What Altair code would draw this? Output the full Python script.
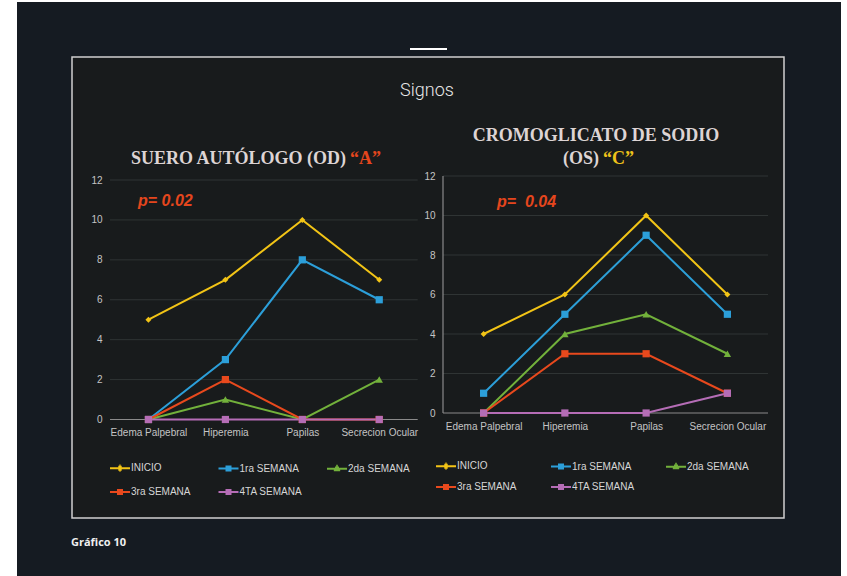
import altair as alt
import pandas as pd

# ---------------- data ----------------
categories = ["Edema Palpebral", "Hiperemia", "Papilas", "Secrecion Ocular"]
series = ["INICIO", "1ra SEMANA", "2da SEMANA", "3ra SEMANA", "4TA SEMANA"]
colors = ["#f2c416", "#2c9fd9", "#72b13b", "#e8491d", "#b56db6"]
y_ticks = [0, 2, 4, 6, 8, 10, 12]

# Suero autologo (OD) "A"
od_inicio = [5, 7, 10, 7]
od_sem1 = [0, 3, 8, 6]
od_sem2 = [0, 1, 0, 2]
od_sem3 = [0, 2, 0, 0]
od_sem4 = [0, 0, 0, 0]

# Cromoglicato de sodio (OS) "C"
os_inicio = [4, 6, 10, 6]
os_sem1 = [1, 5, 9, 5]
os_sem2 = [0, 4, 5, 3]
os_sem3 = [0, 3, 3, 1]
os_sem4 = [0, 0, 0, 1]

# ---------------- style ----------------
W, H = 847, 576
NAVY = "#151b22"
BOX = "#181b1c"
BOX_STROKE = "#d0d0d0"
GRID = "#2f3434"
AXIS_LINE = "#8a8a8a"
LABEL = "#c4c4c4"
LEG = "#d6d6d6"
RED = "#e5461d"
YEL = "#efc21a"
TITLE = "#ddd4d4"
SANS = "Liberation Sans"
SERIF = "Liberation Serif"

# legend symbols: a short line with a small marker drawn from thick strokes
SQ = "M-1,0H1M-0.3,-0.2H0.3M-0.3,0.2H0.3"
DI = "M-1,0H1M-0.17,-0.15H0.17M-0.17,0.15H0.17M-0.06,-0.27H0.06M-0.06,0.27H0.06"
TR = "M-1,0H1M-0.08,-0.3H0.08M-0.2,-0.13H0.2M-0.32,0.13H0.32"
legend_shapes = [DI, SQ, TR, SQ, SQ]

series_p = ["p_" + s for s in series]  # keys for the plotted marks' own colour scales


def tidy(values):
    rows = []
    for s, sp, vals in zip(series, series_p, values):
        for c, v in zip(categories, vals):
            rows.append({"serie": s, "serie_p": sp, "signo": c, "n": v})
    return pd.DataFrame(rows)


def text(txt, x, y, **kw):
    return alt.Chart(pd.DataFrame({"t": [txt]})).mark_text(**kw).encode(
        text="t:N", x=alt.value(x), y=alt.value(y))


def panel(values, x_range, y_range, legend_x, legend_y, row_pad, col_pad, y_line):
    df = tidy(values)
    xs = alt.Scale(type="point", domain=categories, range=x_range, padding=0.5)
    ys = alt.Scale(domain=[0, 12], range=y_range, nice=False, zero=False)
    ax_x = alt.Axis(orient="bottom", offset=y_range[0] - H, title=None, domain=False,
                    ticks=False, tickSize=0, grid=False, labelAngle=0, labelOverlap=False,
                    labelPadding=8, labelFont=SANS, labelFontSize=10, labelColor=LABEL,
                    zindex=1)
    ax_y = alt.Axis(orient="left", offset=-x_range[0], title=None, domain=False,
                    ticks=False, tickSize=0, grid=False, values=y_ticks, labelPadding=8,
                    labelFont=SANS, labelFontSize=10, labelColor=LABEL, zindex=1)
    X = alt.X("signo:N", scale=xs, axis=ax_x, sort=categories)
    Y = alt.Y("n:Q", scale=ys, axis=ax_y)

    legend_kw = dict(orient="none", legendX=legend_x, legendY=legend_y,
                     direction="horizontal", columns=3, title=None, padding=0,
                     symbolSize=400, symbolStrokeWidth=2,
                     labelFont=SANS, labelFontSize=10, labelColor=LEG, labelOffset=0,
                     columnPadding=col_pad, rowPadding=row_pad, gridAlign="all")

    # legend-only layer (no rows drawn): colour + line/marker symbol per series
    leg = alt.Chart(df).transform_filter("false").mark_point(
        filled=False, strokeWidth=2, size=400, opacity=1).encode(
        color=alt.Color("serie:N", scale=alt.Scale(domain=series, range=colors),
                        sort=series, legend=alt.Legend(**legend_kw)),
        shape=alt.Shape("serie:N", scale=alt.Scale(domain=series, range=legend_shapes),
                        sort=series, legend=None))

    grid = alt.Chart(pd.DataFrame({"n": y_ticks[1:]})).mark_rule(
        color=GRID, strokeWidth=1).encode(
        y=Y, x=alt.value(x_range[0]), x2=alt.value(x_range[1]))
    base = alt.Chart(pd.DataFrame({"n": [0]})).mark_rule(
        color=AXIS_LINE, strokeWidth=1.2).encode(
        y=Y, x=alt.value(x_range[0]), x2=alt.value(x_range[1]))
    layers = [leg, grid, base]
    if y_line:
        layers.append(alt.Chart(pd.DataFrame({"n": [0], "m": [12]})).mark_rule(
            color=AXIS_LINE, strokeWidth=1.2).encode(
            x=alt.value(x_range[0]), y=Y, y2="m:Q"))

    stroke_scale = alt.Scale(domain=series_p, range=colors)
    lines = alt.Chart(df).mark_line(strokeWidth=2).encode(
        x=X, y=Y, stroke=alt.Stroke("serie_p:N", scale=stroke_scale, sort=series_p, legend=None))

    fill = alt.Fill("serie_p:N", scale=alt.Scale(domain=series_p, range=colors),
                    sort=series_p, legend=None)
    pts_di = alt.Chart(df).transform_filter(alt.datum.serie == series[0]).mark_point(
        shape="diamond", size=36, filled=True, opacity=1, strokeWidth=0).encode(
        x=X, y=Y, fill=fill)
    pts_sq1 = alt.Chart(df).transform_filter(alt.datum.serie == series[1]).mark_point(
        shape="square", size=52, filled=True, opacity=1, strokeWidth=0).encode(
        x=X, y=Y, fill=fill)
    pts_tr = alt.Chart(df).transform_filter(alt.datum.serie == series[2]).mark_point(
        shape="triangle-up", size=55, filled=True, opacity=1, strokeWidth=0).encode(
        x=X, y=Y, fill=fill)
    pts_sq2 = alt.Chart(df).transform_filter(
        (alt.datum.serie == series[3]) | (alt.datum.serie == series[4])).mark_point(
        shape="square", size=52, filled=True, opacity=1, strokeWidth=0).encode(
        x=X, y=Y, fill=fill)
    return alt.layer(*layers, lines, pts_di, pts_sq1, pts_tr, pts_sq2)


bg = alt.Chart(pd.DataFrame({"k": [1]})).mark_rect(fill=NAVY).encode(
    x=alt.value(17), x2=alt.value(841), y=alt.value(2), y2=alt.value(H))
wline = alt.Chart(pd.DataFrame({"k": [1]})).mark_rule(color="#ffffff", strokeWidth=2).encode(
    x=alt.value(410), x2=alt.value(447), y=alt.value(49))
box = alt.Chart(pd.DataFrame({"k": [1]})).mark_rect(
    fill=BOX, stroke=BOX_STROKE, strokeWidth=1.5).encode(
    x=alt.value(72), x2=alt.value(784), y=alt.value(57), y2=alt.value(518))

texts = [
    text("Signos", 427, 91, font="Roboto", fontWeight=300, fontSize=18,
         color="#e8e8e8", align="center"),
    text("SUERO AUTÓLOGO (OD)", 346, 159, font=SERIF, fontWeight="bold",
         fontSize=18, color=TITLE, align="right"),
    text("“A”", 350, 159, font=SERIF, fontWeight="bold", fontSize=18,
         color=RED, align="left"),
    text("CROMOGLICATO DE SODIO", 596, 136, font=SERIF, fontWeight="bold",
         fontSize=18, color=TITLE, align="center"),
    text("(OS)", 599, 159, font=SERIF, fontWeight="bold", fontSize=18,
         color=TITLE, align="right"),
    text("“C”", 603, 159, font=SERIF, fontWeight="bold", fontSize=18,
         color=YEL, align="left"),
    text("p= 0.02", 138, 201, font=SANS, fontWeight="bold", fontStyle="italic",
         fontSize=16, color=RED, align="left"),
    text("p=\u00a0 0.04", 497, 202, font=SANS, fontWeight="bold", fontStyle="italic",
         fontSize=16, color=RED, align="left"),
    text("Gráfico 10", 71, 543, font="Open Sans", fontWeight="bold", fontSize=11,
         color="#f0f0f0", align="left"),
]

left = panel([od_inicio, od_sem1, od_sem2, od_sem3, od_sem4],
             [110, 417.7], [419.5, 180], 109, 457, 6, 20.5, False)
right = panel([os_inicio, os_sem1, os_sem2, os_sem3, os_sem4],
              [443, 768], [413, 176], 435, 455, 3, 27, True)

chart = alt.layer(bg, wline, box, *texts, left, right).resolve_scale(
    x="independent", y="independent", color="independent", shape="independent",
    stroke="independent", fill="independent"
).resolve_legend(color="independent", shape="independent").properties(
    width=W, height=H, padding=0,
    autosize=alt.AutoSizeParams(type="none"),
    background="#ffffff",
).configure_view(stroke=None)

chart.save("out.html", embed_options={"renderer": "svg", "actions": False})
